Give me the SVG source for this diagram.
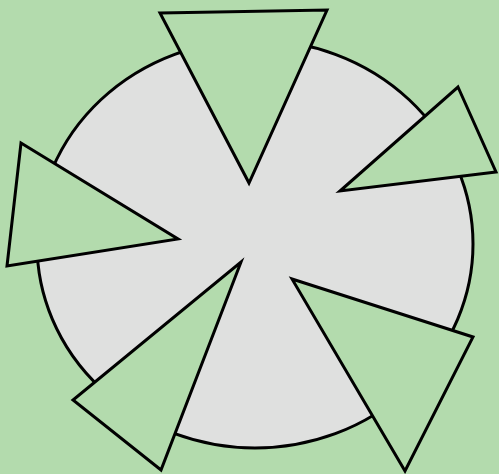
<svg xmlns="http://www.w3.org/2000/svg" width="499" height="474" viewBox="0 0 499 474">
<style>
.tri{fill:#b3dbad;stroke:#000;stroke-width:3;stroke-linejoin:miter}
.disc{fill:#dfe0df;stroke:#000;stroke-width:3}
</style>
<rect x="0" y="0" width="499" height="474" fill="#b3dbad"/>
<g id="disc"><ellipse class="disc" cx="255" cy="244" rx="218" ry="204"/></g>
<g id="tri-top"><polygon class="tri" points="160,13 327,10 249,183"/></g>
<g id="tri-right"><polygon class="tri" points="458,87 496,172 340,191"/></g>
<g id="tri-left"><polygon class="tri" points="21,143 178,239 7,266"/></g>
<g id="tri-bottom-left"><polygon class="tri" points="241,262 161,470 73,400"/></g>
<g id="tri-bottom-right"><polygon class="tri" points="292,279 473,337 405,471"/></g>
</svg>
